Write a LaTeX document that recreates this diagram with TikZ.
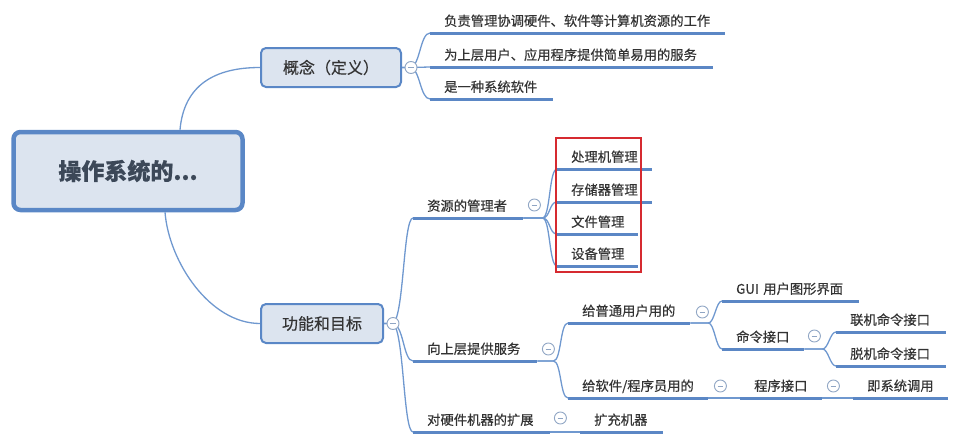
\documentclass[tikz,border=0pt]{standalone}
\usepackage{fontspec}
\setmainfont{Noto Sans CJK SC}[FakeBold=0.5]
\usetikzlibrary{calc}
\definecolor{lineblue}{HTML}{5B87C5}
\definecolor{branchblue}{HTML}{6F98CF}
\definecolor{boxfill}{HTML}{DCE4EF}
\definecolor{boxline}{HTML}{5A87C6}
\definecolor{foldgray}{HTML}{8FA5C4}
\definecolor{txtgray}{HTML}{333333}
\definecolor{roottxt}{HTML}{3C4858}
\definecolor{markred}{HTML}{D62A30}

\begin{document}
\begin{tikzpicture}[x=1pt, y=-1pt,
    box/.style={draw=boxline, fill=boxfill, rounded corners=5pt, line width=2pt, minimum height=39pt, font=\fontsize{16}{18}\selectfont, text=txtgray},
    topic/.style={anchor=south west, inner xsep=14pt, inner ysep=4pt, text width=#1, align=left, text height=10pt, text depth=3pt, font=\fontsize{13.3}{15}\selectfont, text=txtgray,
        append after command={(\tikzlastnode.south west) edge[uline] (\tikzlastnode.south east)}},
    uline/.style={draw=lineblue, line width=3pt},
    branch/.style={draw=branchblue, line width=1.3pt},
    fold/.style={circle, draw=foldgray, fill=white, line width=0.9pt, minimum size=12pt, inner sep=0pt,
        path picture={\draw[foldgray, line width=0.9pt] ([xshift=-2.8pt]path picture bounding box.center) -- ([xshift=2.8pt]path picture bounding box.center);}}
]
\useasboundingbox (0,0) rectangle (975,442);

% main topics
\node[box, line width=4.5pt, rounded corners=7pt, minimum width=229pt, minimum height=78pt, text=roottxt, font=\fontsize{23}{27}\selectfont\bfseries] (root) at (128,171) {操作系统的...};
\node[box, minimum width=140pt] (concept) at (331,67.5) {概念（定义）};
\node[box, minimum width=122pt] (func) at (322,323.5) {功能和目标};

% concept
\node[topic=267pt] (c1) at (430,33) {负责管理协调硬件、软件等计算机资源的工作};
\node[topic=255pt] (c2) at (430,67) {为上层用户、应用程序提供简单易用的服务};
\node[topic=95pt] (c3) at (430,99) {是一种系统软件};

% functions
\node[topic=82pt] (r1) at (413,218) {资源的管理者};
\node[topic=96pt] (r2) at (413,361) {向上层提供服务};
\node[topic=109pt] (r3) at (413,432) {对硬件机器的扩展};

\node[topic=67pt] (m1) at (557,169) {处理机管理};
\node[topic=67pt] (m2) at (557,202) {存储器管理};
\node[topic=53pt] (m3) at (557,234) {文件管理};
\node[topic=53pt] (m4) at (557,266) {设备管理};

\node[topic=94pt] (s1) at (568,323) {给普通用户用的};
\node[topic=112pt] (s2) at (568,398) {给软件/程序员用的};
\node[topic=109pt] (g1) at (722,301) {GUI 用户图形界面};
\node[topic=54pt] (g2) at (722,349) {命令接口};
\node[topic=82pt] (k1) at (836,332) {联机命令接口};
\node[topic=82pt] (k2) at (836,366) {脱机命令接口};
\node[topic=54pt] (p1) at (740,398) {程序接口};
\node[topic=67pt] (p2) at (853,398) {即系统调用};
\node[topic=55pt] (e1) at (580,432) {扩充机器};

% connectors
\draw[branch] ([xshift=52pt]root.north) .. controls +(4,-45) and +(-45,0) .. (concept.west);
\draw[branch] ([xshift=37pt]root.south) .. controls +(4,50) and +(-50,0) .. (func.west);
\foreach \c in {c1,c2,c3}
  \draw[branch] (concept.east) -- ++(8,0) .. controls +(10,0) and +(-10,0) .. (\c.south west);
\foreach \c in {r1,r2,r3}
  \draw[branch] (func.east) -- ++(8,0) .. controls +(12,0) and +(-10,0) .. (\c.south west);
\foreach \c in {m1,m2,m3,m4}
  \draw[branch] (r1.south east) -- ++(19,0) .. controls +(8,0) and +(-8,0) .. (\c.south west);
\foreach \c in {s1,s2}
  \draw[branch] (r2.south east) -- ++(16,0) .. controls +(8,0) and +(-8,0) .. (\c.south west);
\foreach \c in {g1,g2}
  \draw[branch] (s1.south east) -- ++(18,0) .. controls +(6,0) and +(-6,0) .. (\c.south west);
\foreach \c in {k1,k2}
  \draw[branch] (g2.south east) -- ++(18,0) .. controls +(6,0) and +(-6,0) .. (\c.south west);
\draw[branch] (s2.south east) -- (p1.south west);
\draw[branch] (p1.south east) -- (p2.south west);
\draw[branch] (r3.south east) -- (e1.south west);

% fold marks
\node[fold] (f0) at ([xshift=9pt]concept.east) {};
\node[fold] (f1) at ([xshift=9pt]func.east) {};
\node[fold] (f2) at ([shift={(11pt,13pt)}]r1.south east) {};
\node[fold] (f3) at ([shift={(11pt,12pt)}]r2.south east) {};
\node[fold] (f4) at ([shift={(10pt,14pt)}]r3.south east) {};
\node[fold] (f5) at ([shift={(12pt,11pt)}]s1.south east) {};
\node[fold] (f6) at ([shift={(10pt,13pt)}]g2.south east) {};
\node[fold] (f7) at ([shift={(12pt,12pt)}]s2.south east) {};
\node[fold] (f8) at ([shift={(11pt,12pt)}]p1.south east) {};

% highlight
\draw[markred, line width=1.6pt] (556,138) rectangle (641,272);
\end{tikzpicture}
\end{document}
